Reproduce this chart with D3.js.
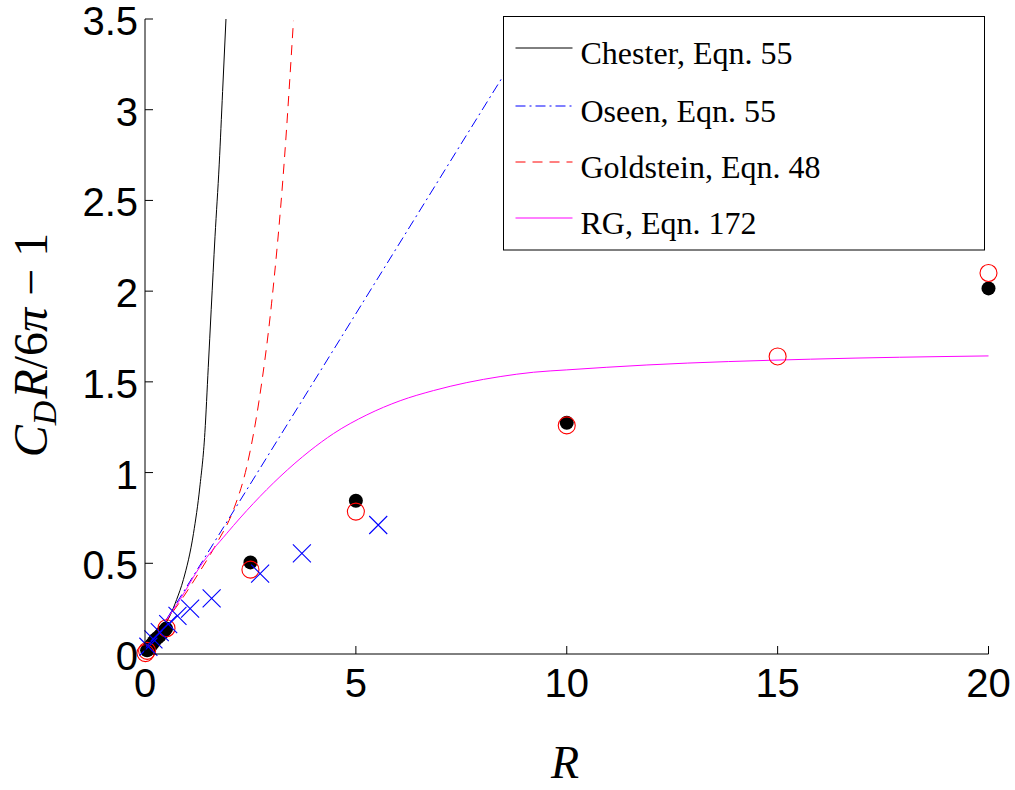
<!DOCTYPE html>
<html>
<head>
<meta charset="utf-8">
<script src="https://cdn.jsdelivr.net/npm/d3@7"></script>
<style>
  html, body { margin: 0; padding: 0; background: #fff; }
  svg { display: block; }
</style>
</head>
<body>
<svg id="chart" width="1015" height="790"></svg>
<script>
// ---------- data ----------
const xTicks = [0, 5, 10, 15, 20];
const yTicks = [0, 0.5, 1, 1.5, 2, 2.5, 3, 3.5];
const yTickLabels = ["0", "0.5", "1", "1.5", "2", "2.5", "3", "3.5"];

// Chester, Eqn. 55 (black solid)
const chesterR = [0, 0.3, 0.59, 0.75, 0.91, 1.15, 1.30, 1.42, 1.50, 1.57, 1.66, 1.76, 1.84, 1.92];
const chesterV = [0, 0.11, 0.21, 0.30, 0.41, 0.665, 0.92, 1.22, 1.58, 1.90, 2.30, 2.70, 3.10, 3.5];

// Oseen, Eqn. 55 (blue dash-dot)
const oseenR = [0, 9.33];
const oseenV = [0, 3.5];

// Goldstein, Eqn. 48 (red dashed)
const goldR = [0, 0.5, 0.91, 1.23, 1.70, 2.09, 2.41, 2.70, 3.0, 3.3, 3.52];
const goldV = [0, 0.18, 0.315, 0.43, 0.61, 0.79, 1.03, 1.39, 1.93, 2.71, 3.49];

// RG, Eqn. 172 (magenta)
const rgR = [0, 0.4, 0.83, 1.30, 1.94, 2.57, 3.2, 3.91, 4.47, 5.26, 6.05, 6.84, 7.63, 8.42, 9.21, 10.0, 11.9, 15.78, 20];
const rgV = [0, 0.15, 0.30, 0.48, 0.665, 0.83, 0.977, 1.12, 1.215, 1.318, 1.396, 1.452, 1.496, 1.529, 1.553, 1.566, 1.593, 1.625, 1.643];

// black filled dots
const dotR = [0.05, 0.1, 0.15, 0.2, 0.25, 0.3, 0.35, 0.4, 0.45, 0.5, 2.5, 5, 10, 20];
const dotV = [0.02, 0.035, 0.05, 0.065, 0.08, 0.09, 0.10, 0.115, 0.125, 0.14, 0.505, 0.845, 1.275, 2.015];

// red open circles
const circR = [0.01, 0.05, 0.51, 2.5, 5, 10, 15, 20];
const circV = [0.005, 0.017, 0.142, 0.465, 0.785, 1.26, 1.64, 2.10];

// blue crosses
const crossR = [0.08, 0.2, 0.35, 0.55, 0.77, 1.07, 1.58, 2.73, 3.72, 5.53];
const crossV = [0.04, 0.08, 0.12, 0.165, 0.21, 0.25, 0.307, 0.443, 0.555, 0.711];

const legendLabels = ["Chester, Eqn. 55", "Oseen, Eqn. 55", "Goldstein, Eqn. 48", "RG, Eqn. 172"];

// ---------- drawing ----------
const svg = d3.select("#chart");
const x = d3.scaleLinear().domain([0, 20]).range([145, 988.5]);
const y = d3.scaleLinear().domain([0, 3.5]).range([654, 19]);

const zip = (a, b) => a.map((v, i) => [v, b[i]]);

svg.append("defs").append("clipPath").attr("id", "clip")
  .append("rect").attr("x", 145).attr("y", 19).attr("width", 844).attr("height", 635);

const plot = svg.append("g").attr("clip-path", "url(#clip)");

const line = d3.line().x(d => x(d[0])).y(d => y(d[1])).curve(d3.curveMonotoneX);
const straight = d3.line().x(d => x(d[0])).y(d => y(d[1]));

const styles = [
  { color: "#000000", dash: null },
  { color: "#0000ff", dash: "10,4,2,4" },
  { color: "#ff0000", dash: "10,7" },
  { color: "#ff00ff", dash: null }
];

plot.append("path").datum(zip(chesterR, chesterV)).attr("d", line)
  .attr("fill", "none").attr("stroke", styles[0].color).attr("stroke-width", 1);
plot.append("path").datum(zip(oseenR, oseenV)).attr("d", straight)
  .attr("fill", "none").attr("stroke", styles[1].color).attr("stroke-width", 1)
  .attr("stroke-dasharray", styles[1].dash);
plot.append("path").datum(zip(goldR, goldV)).attr("d", line)
  .attr("fill", "none").attr("stroke", styles[2].color).attr("stroke-width", 1)
  .attr("stroke-dasharray", styles[2].dash);
plot.append("path").datum(zip(rgR, rgV)).attr("d", line)
  .attr("fill", "none").attr("stroke", styles[3].color).attr("stroke-width", 1);

// markers
const marks = svg.append("g");
marks.selectAll("circle.dot").data(zip(dotR, dotV)).join("circle")
  .attr("class", "dot")
  .attr("cx", d => x(d[0])).attr("cy", d => y(d[1])).attr("r", 7)
  .attr("fill", "#000");
marks.selectAll("circle.oc").data(zip(circR, circV)).join("circle")
  .attr("class", "oc")
  .attr("cx", d => x(d[0])).attr("cy", d => y(d[1])).attr("r", 8.5)
  .attr("fill", "none").attr("stroke", "#ff0000").attr("stroke-width", 1.1);
const cs = 9;
marks.selectAll("path.cross").data(zip(crossR, crossV)).join("path")
  .attr("class", "cross")
  .attr("d", d => {
    const cx = x(d[0]), cy = y(d[1]);
    return `M${cx - cs},${cy - cs}L${cx + cs},${cy + cs}M${cx - cs},${cy + cs}L${cx + cs},${cy - cs}`;
  })
  .attr("fill", "none").attr("stroke", "#0000ff").attr("stroke-width", 1.1);

// axes
const xAxis = d3.axisBottom(x).tickValues(xTicks).tickSizeInner(-8).tickSizeOuter(0)
  .tickPadding(15).tickFormat(d3.format("d")).offset(0);
const yAxis = d3.axisLeft(y).tickValues(yTicks).tickSizeInner(-8).tickSizeOuter(0)
  .tickPadding(7).tickFormat((d, i) => yTickLabels[i]).offset(0);

const gx = svg.append("g").attr("transform", "translate(0,654)").call(xAxis);
const gy = svg.append("g").attr("transform", "translate(145,0)").call(yAxis);
[gx, gy].forEach(g => {
  g.selectAll("text").attr("font-family", "'Liberation Sans', Arial, sans-serif")
    .attr("font-size", 40).attr("fill", "#000");
  g.select(".domain").attr("stroke", "#000").attr("stroke-width", 1);
  g.selectAll(".tick line").attr("stroke", "#000").attr("stroke-width", 1);
});
gy.selectAll("text").attr("dy", "0.4em");

// axis labels
svg.append("text")
  .attr("x", 565).attr("y", 778)
  .attr("text-anchor", "middle")
  .attr("font-family", "'Liberation Serif', 'Times New Roman', serif")
  .attr("font-style", "italic").attr("font-size", 46)
  .text("R");

const yl = svg.append("text")
  .attr("transform", "translate(47,345) rotate(-90)")
  .attr("text-anchor", "middle")
  .attr("font-family", "'Liberation Serif', 'Times New Roman', serif")
  .attr("font-size", 48);
yl.append("tspan").attr("font-style", "italic").text("C");
yl.append("tspan").attr("font-style", "italic").attr("font-size", 34).attr("dy", 9).text("D");
yl.append("tspan").attr("font-style", "italic").attr("dy", -9).attr("dx", 2).text("R");
yl.append("tspan").text("/6");
yl.append("tspan").attr("font-style", "italic").text("π");
yl.append("tspan").text(" − 1");

// legend
const lg = svg.append("g");
lg.append("rect").attr("x", 503.5).attr("y", 16.5).attr("width", 481).attr("height", 233.5)
  .attr("fill", "#fff").attr("stroke", "#000").attr("stroke-width", 1);
const rowY = [48, 106, 162, 218];
legendLabels.forEach((lab, i) => {
  lg.append("line").attr("x1", 515.5).attr("x2", 572.5)
    .attr("y1", rowY[i]).attr("y2", rowY[i])
    .attr("stroke", styles[i].color).attr("stroke-width", 1)
    .attr("stroke-dasharray", styles[i].dash);
  lg.append("text").attr("x", 580.5).attr("y", rowY[i] + 16)
    .attr("font-family", "'Liberation Serif', 'Times New Roman', serif")
    .attr("font-size", 32).attr("fill", "#000")
    .text(lab);
});
</script>
</body>
</html>
